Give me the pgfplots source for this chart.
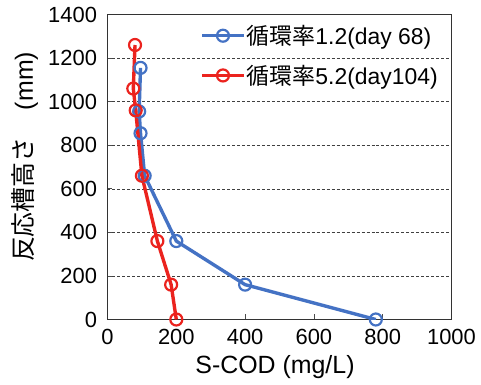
\documentclass[border=0pt]{standalone}
\usepackage{pgfplots}
\pgfplotsset{compat=1.18}
\usepackage{fontspec}
\setmainfont{Liberation Sans}
\newfontfamily\cjk{Noto Sans CJK JP}
\definecolor{cblue}{RGB}{68,114,196}
\definecolor{cred}{RGB}{235,35,30}
\begin{document}
\begin{tikzpicture}
\begin{axis}[
  scale only axis, width=344bp, height=305bp,
  xmin=0, xmax=1000, ymin=0, ymax=1400,
  xtick={0,200,...,1000}, ytick={0,200,...,1400},
  tick align=inside, major tick length=5bp,
  xtick pos=bottom, ytick pos=left,
  ymajorgrids, grid style={densely dashed, black!75, line width=0.5pt},
  axis line style={black!80, line width=0.8pt},
  tick style={black!70, line width=0.6pt},
  /pgf/number format/assume math mode=true,
  /pgf/number format/1000 sep={},
  tick label style={font=\fontsize{22}{26}\selectfont},
  xticklabel style={yshift=-6bp},
  yticklabel style={xshift=-7bp},
  label style={font=\fontsize{25}{29}\selectfont},
  xlabel={S-COD (mg/L)},
  ylabel={{\cjk 反応槽高さ}\hspace{1.1em}(mm)},
  xlabel style={at={(axis description cs:0.487,-0.155)}, anchor=center},
  ylabel style={at={(axis description cs:-0.24,0.533)}, anchor=center},
  legend style={draw=none, fill=none, at={(0.965,0.97)}, anchor=north east,
    font=\fontsize{23}{27}\selectfont, row sep=16bp, inner sep=0pt,
    legend cell align=left, nodes={inner sep=1.5bp}},
  legend image code/.code={
    \draw[#1, mark=none] (0cm,0cm) -- (1.45cm,0cm);
    \draw[#1, only marks] plot coordinates {(0.725cm,0cm)};
  },
]
\addplot[cblue, line width=3.4pt, mark=o, mark size=6bp,
  mark options={fill=white, line width=2.2pt}]
  coordinates {(780,0) (400,160) (200,360) (108,660) (96,855) (92,955) (96,1155)};
\addlegendentry{{\cjk 循環率}1.2(day 68)}
\addplot[cred, line width=3.4pt, mark=o, mark size=6bp,
  mark options={fill=white, line width=2.2pt}]
  coordinates {(200,0) (185,160) (145,360) (100,660) (82,960) (75,1060) (80,1260)};
\addlegendentry{{\cjk 循環率}5.2(day104)}
\end{axis}
\path (-107.5bp,-65.5bp) rectangle (373.5bp,319.5bp);
\end{tikzpicture}
\end{document}
